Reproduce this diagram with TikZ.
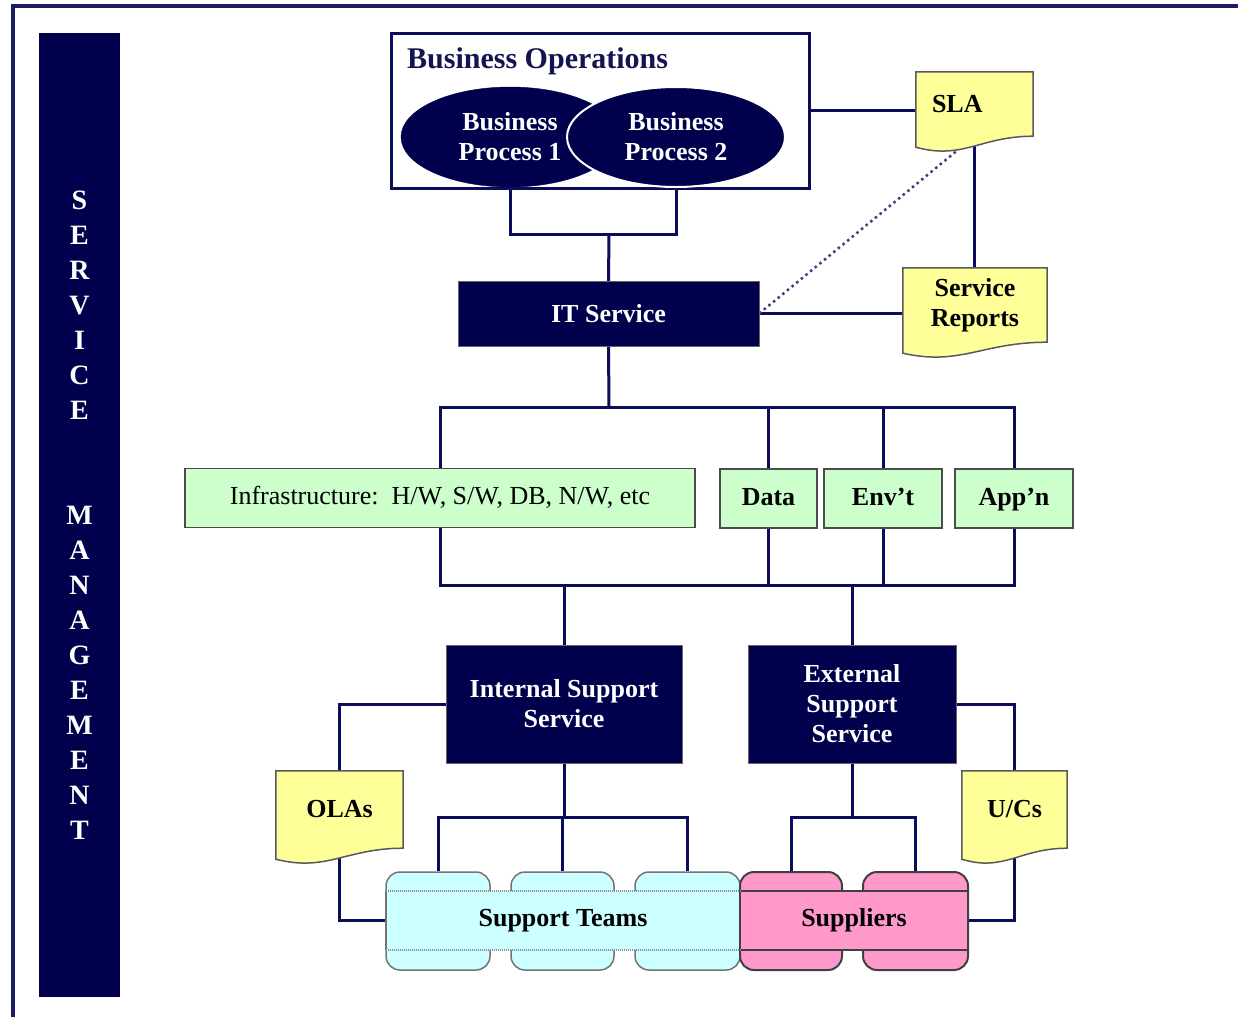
\documentclass[tikz,border=0pt]{standalone}
\usepackage{fontspec}
\setmainfont{Liberation Serif}
\usetikzlibrary{calc, positioning, shapes.geometric, backgrounds}
\definecolor{smnavy}{RGB}{0,0,77}
\definecolor{smline}{RGB}{12,12,92}
\definecolor{smframe}{RGB}{28,28,100}
\definecolor{smtitle}{RGB}{20,20,80}
\definecolor{smyellow}{RGB}{255,255,153}
\definecolor{smgreen}{RGB}{204,255,204}
\definecolor{smcyan}{RGB}{204,255,255}
\definecolor{smpink}{RGB}{255,153,204}
\newcommand{\bigbold}{\bfseries\fontsize{26}{30}\selectfont}
\tikzset{
    navybox/.style={draw=black!60, fill=smnavy, text=white, font=\bigbold, align=center, inner sep=0pt},
    greenbox/.style={draw=black!70, line width=1.5pt, fill=smgreen, font=\bigbold, inner sep=0pt, minimum height=59pt, text height=18pt, text depth=5pt},
    procellipse/.style={ellipse, fill=smnavy, text=white, font=\bigbold, align=center, inner sep=0pt, minimum width=218pt, minimum height=100pt},
    bartext/.style={text=white, font=\bfseries\fontsize{28}{35}\selectfont, align=center, inner sep=0pt},
    docbox/.style={font=\bigbold, align=center, inner sep=0pt},
    docshape/.style={draw=black!65, line width=1.5pt, fill=smyellow},
    link/.style={draw=smline, line width=3pt},
    dotlink/.style={draw=smline!80, line width=2.5pt, dash pattern=on 2.5pt off 3.5pt},
    cyantab/.style={draw=black!55, line width=1.5pt, fill=smcyan, rounded corners=14pt, minimum height=98pt, inner sep=0pt},
    pinktab/.style={draw=black!75, line width=2pt, fill=smpink, rounded corners=14pt, minimum height=98pt, inner sep=0pt},
    bandtext/.style={font=\bigbold, inner sep=0pt, minimum height=59pt},
    bandrule/.style={draw=black!45, line width=2pt, dash pattern=on 1pt off 1pt}
}
% document shape with wavy bottom, drawn under the node's text
\newcommand{\drawdoc}[1]{\draw[docshape] (#1.north west) -- (#1.north east) -- (#1.south east) .. controls ($(#1.south east)!0.45!(#1.south west)$) and ($(#1.south east)!0.6!(#1.south west)+(0,24)$) .. ($(#1.south west)+(0,11)$) -- cycle;}

\begin{document}
\begin{tikzpicture}[x=1pt,y=-1pt]
    \useasboundingbox (0,0) rectangle (1238,1017);
    % Frame (top and left only)
    \draw[draw=smframe, line width=4pt] (13,1017) -- (13,6) -- (1238,6);

    % Side banner
    \node[fill=smnavy, minimum width=81pt, minimum height=964pt, inner sep=0pt] (smbar) at (79.5,515) {};
    \node[bartext] (svcword)  at (79.5,305) {S\\E\\R\\V\\I\\C\\E};
    \node[bartext] (mgmtword) at (79.5,673) {M\\A\\N\\A\\G\\E\\M\\E\\N\\T};

    % Business operations
    \node[draw=smline, line width=3pt, fill=white, minimum width=418pt, minimum height=155pt, inner sep=0pt] (bizops) at (600,110.5) {};
    \node[anchor=west, text=smtitle, font=\bfseries\fontsize{30}{34}\selectfont, inner sep=0pt] (bizopstitle) at (407,61) {Business Operations};
    \node[procellipse, draw=smnavy] (bp1) at (510,137) {Business\\Process 1};
    \node[procellipse, draw=white, line width=2pt] (bp2) at (676,137) {Business\\Process 2};

    \node[navybox, minimum width=301pt, minimum height=65pt] (itsvc) at (608.5,313.5) {IT Service};

    % Agreements and reports
    \node[docbox, text width=85pt, inner xsep=16pt, align=left, minimum height=64pt] (sla) at (974.5,104) {SLA};
    \node[docbox, minimum width=144pt, minimum height=74pt] (reports) at (975,305) {Service\\Reports};
    \node[docbox, minimum width=127pt, minimum height=77pt] (olas) at (339.5,809.5) {OLAs};
    \node[docbox, minimum width=105pt, minimum height=77pt] (ucs) at (1014.5,809.5) {U/Cs};

    % Infrastructure components
    \node[greenbox, font=\fontsize{26}{30}\selectfont, minimum width=510pt] (infra) at (440,498) {Infrastructure:\ \ H/W, S/W, DB, N/W, etc};
    \node[greenbox, minimum width=97pt]  (data) at (768.5,498.5) {Data};
    \node[greenbox, minimum width=118pt] (envt) at (883,498.5) {Env't};
    \node[greenbox, minimum width=118pt] (appn) at (1014,498.5) {App'n};

    % Support services
    \node[navybox, minimum width=236pt, minimum height=118pt] (intsvc) at (564,704) {Internal Support\\Service};
    \node[navybox, minimum width=208pt, minimum height=118pt] (extsvc) at (852,704) {External\\Support\\Service};

    % Teams and suppliers
    \node[cyantab, minimum width=104pt] (team1) at (438,921) {};
    \node[cyantab, minimum width=103pt] (team2) at (562.5,921) {};
    \node[cyantab, minimum width=105pt] (team3) at (687.5,921) {};
    \node[pinktab, minimum width=102pt] (supp1) at (791,921) {};
    \node[pinktab, minimum width=105pt] (supp2) at (915.5,921) {};
    \node[fill=smcyan, bandtext, minimum width=354pt] (teams) at (563,920.5) {Support Teams};
    \node[fill=smpink, draw=black!75, line width=2pt, bandtext, minimum width=228pt] (suppl) at (854,920.5) {Suppliers};
    \draw[draw=black!55, line width=1.5pt] (teams.north west) -- (teams.south west);
    \draw[bandrule] (teams.north west) -- (teams.north east);
    \draw[bandrule] (teams.south west) -- (teams.south east);

    % Junctions
    \coordinate (bpjoin) at (609,234);
    \coordinate (itbus)  at (609,407);
    \coordinate (supbus) at (609,585);
    \coordinate (intbus) at (564,817);
    \coordinate (extbus) at (852,817);

    \begin{scope}[on background layer]
        \draw[link] (bp1.south) |- (bpjoin) -| (bp2.south);
        \draw[link] (bpjoin) -- (itsvc.north);
        \draw[link] (bizops.east) -- (bizops.east -| sla.west);
        \draw[link] (sla.south) -- (sla.south |- reports.north);
        \draw[link] (itsvc.east) -- (itsvc.east -| reports.west);
        \draw[dotlink] (itsvc.east) -- (sla.south);
        % up to the infrastructure row
        \draw[link] (itsvc.south) -- (itbus);
        \draw[link] (infra.north) |- (itbus) -| (appn.north);
        \draw[link] (data.north) -- (data.north |- itbus);
        \draw[link] (envt.north) -- (envt.north |- itbus);
        % down to the support services
        \draw[link] (infra.south) |- (supbus) -| (appn.south);
        \draw[link] (data.south) -- (data.south |- supbus);
        \draw[link] (envt.south) -- (envt.south |- supbus);
        \draw[link] (intsvc.north) -- (intsvc.north |- supbus);
        \draw[link] (extsvc.north) -- (extsvc.north |- supbus);
        % agreements
        \draw[link] (intsvc.west) -| (olas.north);
        \draw[link] (olas.south) |- (teams.west);
        \draw[link] (extsvc.east) -| (ucs.north);
        \draw[link] (ucs.south) |- (suppl.east);
        % teams and suppliers
        \draw[link] (intsvc.south) -- (intbus);
        \draw[link] (team1.north) |- (intbus) -| (team3.north);
        \draw[link] (team2.north) -- (team2.north |- intbus);
        \draw[link] (extsvc.south) -- (extbus);
        \draw[link] (supp1.north) |- (extbus) -| (supp2.north);
    \end{scope}
    \begin{scope}[on background layer]
        \drawdoc{sla}
        \drawdoc{reports}
        \drawdoc{olas}
        \drawdoc{ucs}
    \end{scope}
\end{tikzpicture}
\end{document}
